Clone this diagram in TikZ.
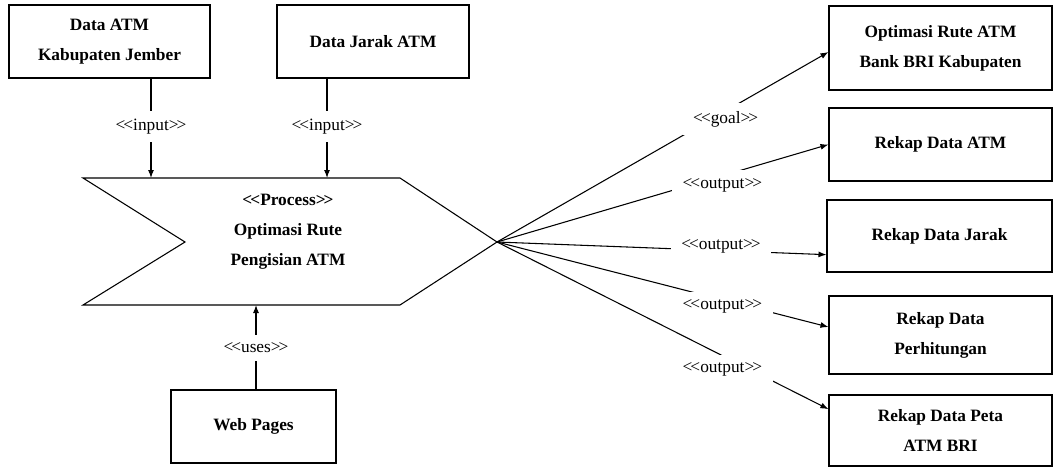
\documentclass[tikz,border=0pt]{standalone}
\usepackage{fontspec}
\setmainfont{Liberation Serif}
\usetikzlibrary{arrows.meta}
\newcommand{\stereo}[1]{<\kern-1.5pt<#1>\kern-1.5pt>}

\begin{document}
\begin{tikzpicture}[x=0.75pt, y=-0.75pt, line width=0.8pt, >={Latex[length=6pt,width=4.5pt]}]
  \tikzstyle{box} = [draw, align=center, inner sep=0pt, font=\fontsize{13}{22.5}\selectfont\bfseries]
  \tikzstyle{lbl} = [fill=white, inner xsep=8pt, inner ysep=6pt, font=\fontsize{13}{15}\selectfont]
  \useasboundingbox (0,0) rectangle (1057,472);

  \node[box, minimum width=150.75pt, minimum height=54.75pt] (atm) at (109.5,41.5) {Data ATM\\Kabupaten Jember};
  \node[box, minimum width=144pt, minimum height=54.75pt] (jarak) at (373,41.5) {Data Jarak ATM};
  \node[box, minimum width=123.75pt, minimum height=54.75pt] (web) at (253.5,426.5) {Web Pages};

  \draw (83,178) coordinate (ptl) -- (400,178) -- (497,242) coordinate (tip)
    -- (400,305) -- (83,305) coordinate (pbl) -- (185,242) -- cycle;
  \node[align=center, font=\fontsize{13}{22.5}\selectfont\bfseries] (proc) at (288,232)
    {\stereo{Process}\\Optimasi Rute\\Pengisian ATM};
  \coordinate (inA) at (151,178);
  \coordinate (inB) at (327,178);
  \coordinate (inW) at (256,305);

  \node[box, minimum width=167.25pt, minimum height=63pt] (goal) at (940.5,48) {Optimasi Rute ATM\\Bank BRI Kabupaten};
  \node[box, minimum width=167.25pt, minimum height=54.75pt] (rekapatm) at (940.5,144.5) {Rekap Data ATM};
  \node[box, minimum width=168.75pt, minimum height=54pt] (rekapjarak) at (939.5,236) {Rekap Data Jarak};
  \node[box, minimum width=167.25pt, minimum height=58.5pt] (rekaphitung) at (940.5,335) {Rekap Data\\Perhitungan};
  \node[box, minimum width=167.25pt, minimum height=53.25pt] (rekappeta) at (940.5,430.5) {Rekap Data Peta\\ATM BRI};

  \draw[->] (atm.south -| inA) -- (inA) node[lbl, pos=0.48] {\stereo{input}};
  \draw[->] (jarak.south -| inB) -- (inB) node[lbl, pos=0.48] {\stereo{input}};
  \draw[->] (web.north -| inW) -- (inW) node[lbl, pos=0.49] {\stereo{uses}};

  \draw[->] (tip) -- ([yshift=-3pt]goal.west) node[lbl, pos=0.69, yshift=-6pt] {\stereo{goal}};
  \draw[->] (tip) -- (rekapatm.west) node[lbl, pos=0.68, yshift=-7pt] {\stereo{output}};
  \draw[->] (tip) -- ([yshift=-14pt]rekapjarak.west) node[lbl, pos=0.68, yshift=3pt] {\stereo{output}};
  \draw[->] (tip) -- ([yshift=6pt]rekaphitung.west) node[lbl, pos=0.68, yshift=-5pt] {\stereo{output}};
  \draw[->] (tip) -- ([yshift=16pt]rekappeta.west) node[lbl, pos=0.68, yshift=-10.5pt] {\stereo{output}};
\end{tikzpicture}
\end{document}
